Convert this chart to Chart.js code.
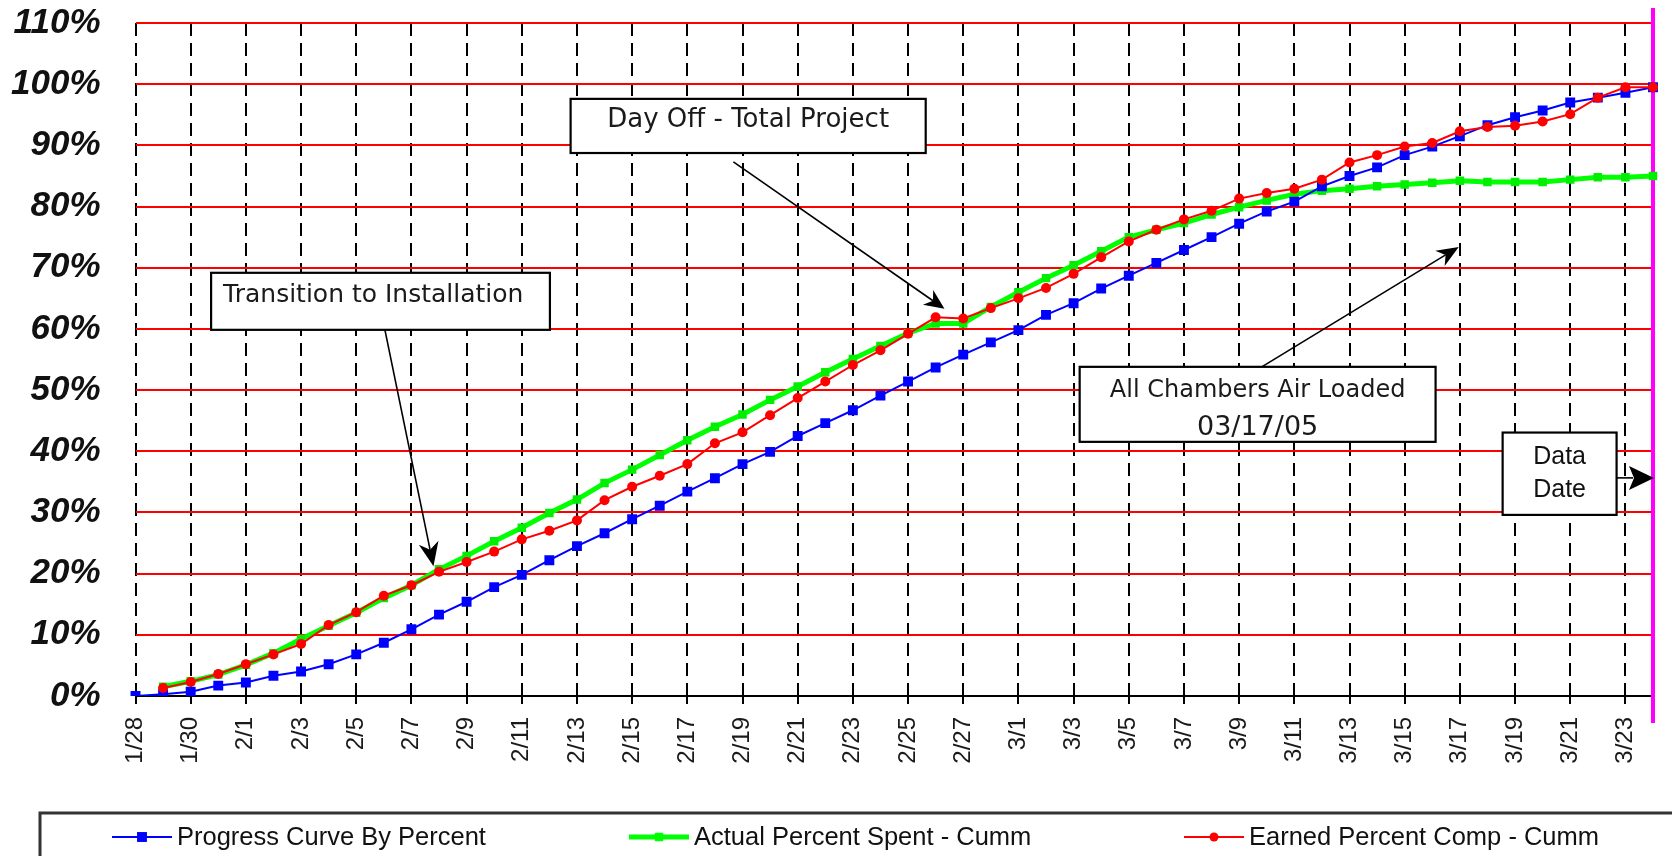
<!DOCTYPE html>
<html>
<head>
<meta charset="utf-8">
<script src="https://cdn.jsdelivr.net/npm/chart.js@4/dist/chart.umd.min.js"></script>
<style>
  html, body { margin: 0; padding: 0; background: #ffffff; }
  #wrap { width: 1672px; height: 856px; }
</style>
</head>
<body>
<div id="wrap"><canvas id="c" width="1672" height="856"></canvas></div>
<script>
// Daily reporting dates, 1/28 through the data date 3/24
const days = [
  '1/28','1/29','1/30','1/31',
  '2/1','2/2','2/3','2/4','2/5','2/6','2/7','2/8','2/9','2/10','2/11','2/12','2/13','2/14',
  '2/15','2/16','2/17','2/18','2/19','2/20','2/21','2/22','2/23','2/24','2/25','2/26','2/27','2/28',
  '3/1','3/2','3/3','3/4','3/5','3/6','3/7','3/8','3/9','3/10','3/11','3/12','3/13','3/14',
  '3/15','3/16','3/17','3/18','3/19','3/20','3/21','3/22','3/23','3/24'
];

// Planned progress curve (%)
const progressCurve = [
  0, 0.3, 0.7, 1.7,
  2.2, 3.3, 4.0, 5.2, 6.8, 8.7, 10.9, 13.3, 15.4, 17.8, 19.8, 22.2, 24.5, 26.6,
  28.9, 31.1, 33.4, 35.6, 37.9, 39.9, 42.5, 44.6, 46.7, 49.1, 51.4, 53.7, 55.8, 57.8,
  59.8, 62.3, 64.2, 66.6, 68.7, 70.8, 72.9, 75.0, 77.2, 79.2, 80.8, 83.3, 85.0, 86.4,
  88.4, 89.8, 91.5, 93.3, 94.6, 95.7, 97.0, 97.8, 98.6, 99.5
];

// Actual percent spent, cumulative (%)
const actualSpent = [
  null, 1.5, 2.4, 3.5,
  5.1, 7.0, 9.3, 11.5, 13.6, 16.0, 18.1, 20.7, 22.9, 25.3, 27.5, 29.9, 32.1, 34.8,
  37.0, 39.4, 41.8, 44.0, 46.0, 48.4, 50.6, 52.9, 55.1, 57.2, 59.3, 60.9, 60.9, 63.6,
  66.0, 68.3, 70.4, 72.7, 75.0, 76.2, 77.3, 78.7, 79.9, 81.0, 82.0, 82.6, 82.9, 83.3,
  83.6, 83.9, 84.2, 84.0, 84.0, 84.0, 84.4, 84.8, 84.8, 85.0
];

// Earned percent complete, cumulative (%)
const earnedComp = [
  null, 1.3, 2.3, 3.6,
  5.2, 6.8, 8.5, 11.6, 13.7, 16.4, 18.1, 20.3, 21.9, 23.6, 25.6, 27.0, 28.7, 32.0,
  34.2, 36.0, 37.9, 41.3, 43.1, 45.9, 48.7, 51.4, 54.1, 56.5, 59.2, 61.9, 61.7, 63.4,
  65.0, 66.7, 69.0, 71.7, 74.3, 76.2, 77.9, 79.3, 81.3, 82.2, 82.9, 84.4, 87.2, 88.4,
  89.8, 90.4, 92.3, 93.0, 93.2, 93.9, 95.1, 97.8, 99.5, 99.5
];

const seriesNames = ['Progress Curve By Percent', 'Actual Percent Spent - Cumm', 'Earned Percent Comp - Cumm'];

const Y_MAX = 110;
const Y_STEP = 10;
const DATA_DATE_INDEX = days.length - 1;

const SANS = '"Liberation Sans", Arial, sans-serif';
const NOTE_FONT = '"DejaVu Sans", sans-serif';

// Call-out boxes, placed in chart units (day index, percent)
const notes = [
  { lines: ['Day Off - Total Project'], sizes: [26], box: [15.77, 97.6, 28.64, 88.75], align: 'center',
    baselines: [28], from: [21.67, 87.3], to: [29.32, 63.3], head: [20, 9] },
  { lines: ['Transition to Installation'], sizes: [25], box: [2.74, 69.17, 15.02, 59.85], align: 'left',
    baselines: [28.7], from: [9.04, 59.85], to: [10.8, 21.2], head: [24, 10] },
  { lines: ['All Chambers Air Loaded', '03/17/05'], sizes: [24, 27], box: [34.22, 53.8, 47.12, 41.54], align: 'center',
    baselines: [29.7, 68], from: [40.82, 53.8], to: [47.96, 73.4], head: [22, 9] }
];
const dataDateNote = { lines: ['Data', 'Date'], box: [49.55, 43.06, 53.68, 29.6], baselines: [31.3, 64.3], arrowAt: 35.65 };

function stealthArrow(ctx, x1, y1, x2, y2, len, half) {
  const dx = x2 - x1, dy = y2 - y1;
  const d = Math.hypot(dx, dy);
  const ux = dx / d, uy = dy / d;
  const nx = -uy, ny = ux;
  const bx = x2 - ux * len, by = y2 - uy * len;
  const mx = x2 - ux * len * 0.7, my = y2 - uy * len * 0.7;
  ctx.beginPath();
  ctx.moveTo(x1, y1);
  ctx.lineTo(mx, my);
  ctx.stroke();
  ctx.beginPath();
  ctx.moveTo(x2, y2);
  ctx.lineTo(bx + nx * half, by + ny * half);
  ctx.lineTo(mx, my);
  ctx.lineTo(bx - nx * half, by - ny * half);
  ctx.closePath();
  ctx.fill();
}

const overlay = {
  id: 'overlay',
  beforeDatasetsDraw(chart) {
    const { ctx, chartArea } = chart;
    const xs = chart.scales.x;
    const x = xs.getPixelForValue(DATA_DATE_INDEX);
    ctx.save();
    ctx.strokeStyle = '#ff00ff';
    ctx.lineWidth = 4;
    ctx.beginPath();
    ctx.moveTo(x, chartArea.top - 15);
    ctx.lineTo(x, chartArea.bottom + 27);
    ctx.stroke();
    ctx.restore();
  },
  afterDatasetsDraw(chart) {
    const { ctx } = chart;
    const xs = chart.scales.x, ys = chart.scales.y;
    const px = v => xs.getPixelForValue(v);
    const py = v => ys.getPixelForValue(v);
    ctx.save();

    // call-out boxes with arrows
    notes.forEach(n => {
      ctx.strokeStyle = '#000';
      ctx.fillStyle = '#000';
      ctx.lineWidth = 1.6;
      stealthArrow(ctx, px(n.from[0]), py(n.from[1]), px(n.to[0]), py(n.to[1]), n.head[0], n.head[1]);
      const L = px(n.box[0]), T = py(n.box[1]), R = px(n.box[2]), B = py(n.box[3]);
      ctx.fillStyle = '#fff';
      ctx.fillRect(L, T, R - L, B - T);
      ctx.lineWidth = 2.2;
      ctx.strokeStyle = '#000';
      ctx.strokeRect(L, T, R - L, B - T);
      ctx.fillStyle = '#1a1a1a';
      ctx.textBaseline = 'alphabetic';
      n.lines.forEach((t, k) => {
        ctx.font = n.sizes[k] + 'px ' + NOTE_FONT;
        if (n.align === 'left') {
          ctx.textAlign = 'left';
          ctx.fillText(t, L + 12, T + n.baselines[k]);
        } else {
          ctx.textAlign = 'center';
          ctx.fillText(t, (L + R) / 2, T + n.baselines[k]);
        }
      });
    });

    // data date box and arrow to the data date line
    {
      const n = dataDateNote;
      const L = px(n.box[0]), T = py(n.box[1]), R = px(n.box[2]), B = py(n.box[3]);
      const ay = py(n.arrowAt), tip = px(DATA_DATE_INDEX);
      ctx.strokeStyle = '#000';
      ctx.lineWidth = 1.6;
      ctx.beginPath();
      ctx.moveTo(R, ay);
      ctx.lineTo(tip - 20, ay);
      ctx.stroke();
      ctx.fillStyle = '#000';
      ctx.beginPath();
      ctx.moveTo(tip + 1, ay);
      ctx.lineTo(tip - 24, ay - 12);
      ctx.lineTo(tip - 19, ay);
      ctx.lineTo(tip - 24, ay + 12);
      ctx.closePath();
      ctx.fill();
      ctx.fillStyle = '#fff';
      ctx.fillRect(L, T, R - L, B - T);
      ctx.lineWidth = 2.2;
      ctx.strokeRect(L, T, R - L, B - T);
      ctx.fillStyle = '#111';
      ctx.font = '25px ' + SANS;
      ctx.textAlign = 'center';
      ctx.textBaseline = 'alphabetic';
      n.lines.forEach((t, k) => ctx.fillText(t, (L + R) / 2, T + n.baselines[k]));
    }

    // legend panel along the bottom
    ctx.strokeStyle = '#333';
    ctx.lineWidth = 3;
    ctx.strokeRect(40, 813, 1680, 80);
    const itemX = [112, 629, 1184];
    const ly = 837;
    chart.data.datasets.forEach((ds, i) => {
      const x0 = itemX[i], x1 = x0 + 60;
      ctx.strokeStyle = ds.borderColor;
      ctx.lineWidth = ds.borderWidth;
      ctx.beginPath();
      ctx.moveTo(x0, ly);
      ctx.lineTo(x1, ly);
      ctx.stroke();
      ctx.fillStyle = ds.borderColor;
      const cx = (x0 + x1) / 2;
      if (ds.pointStyle === 'circle') {
        ctx.beginPath();
        ctx.arc(cx, ly, 4.5, 0, Math.PI * 2);
        ctx.fill();
      } else {
        const s = ds.pointRadius * Math.SQRT1_2;
        ctx.fillRect(cx - s, ly - s, 2 * s, 2 * s);
      }
      ctx.fillStyle = '#111';
      ctx.font = '25.5px ' + SANS;
      ctx.textAlign = 'left';
      ctx.textBaseline = 'middle';
      ctx.fillText(ds.label, x1 + 5, ly + 1);
    });
    ctx.restore();
  }
};

Chart.defaults.font.family = SANS;

new Chart(document.getElementById('c'), {
  type: 'line',
  data: {
    labels: days,
    datasets: [
      {
        label: seriesNames[0], data: progressCurve,
        borderColor: '#0000ff', backgroundColor: '#0000ff', borderWidth: 2,
        pointStyle: 'rect', pointRadius: 7, pointBorderWidth: 0,
        pointBackgroundColor: '#0000ff', tension: 0, order: 1
      },
      {
        label: seriesNames[1], data: actualSpent,
        borderColor: '#00ff00', backgroundColor: '#00ff00', borderWidth: 5,
        pointStyle: 'rect', pointRadius: 6, pointBorderWidth: 0,
        pointBackgroundColor: '#00ee00', tension: 0, order: 2
      },
      {
        label: seriesNames[2], data: earnedComp,
        borderColor: '#ff0000', backgroundColor: '#ff0000', borderWidth: 2,
        pointStyle: 'circle', pointRadius: 5, pointBorderWidth: 0,
        pointBackgroundColor: '#ff0000', tension: 0, order: 0
      }
    ]
  },
  options: {
    responsive: false,
    animation: false,
    devicePixelRatio: 1,
    layout: { padding: { top: 23, right: 19, bottom: 0, left: 0 } },
    plugins: { legend: { display: false }, tooltip: { enabled: false } },
    scales: {
      x: {
        type: 'category',
        offset: false,
        afterFit: s => { s.height = 160; s.paddingLeft = 0; s.paddingRight = 0; },
        grid: {
          display: true,
          drawOnChartArea: true,
          drawTicks: true,
          tickLength: 8,
          lineWidth: 2,
          tickWidth: 2,
          color: c => (c.index % 2 === 0 && c.index < DATA_DATE_INDEX) ? '#000' : 'rgba(0,0,0,0)',
          tickColor: c => (c.index % 2 === 0 && c.index < DATA_DATE_INDEX) ? '#000' : 'rgba(0,0,0,0)'
        },
        border: { display: false, dash: [13, 7] },
        ticks: {
          autoSkip: false,
          maxRotation: 90,
          minRotation: 90,
          padding: 13,
          color: '#1a1a1a',
          font: { size: 24, family: SANS },
          callback: (v, i) => (i % 2 === 0 && i < DATA_DATE_INDEX) ? days[i] : ''
        }
      },
      y: {
        min: 0,
        max: Y_MAX,
        afterFit: s => { s.width = 135.5; s.paddingTop = 0; s.paddingBottom = 0; },
        grid: {
          drawTicks: false,
          lineWidth: 2,
          color: c => c.tick && c.tick.value === 0 ? '#000' : '#ff0000'
        },
        border: { display: false },
        ticks: {
          stepSize: Y_STEP,
          autoSkip: false,
          padding: 35,
          color: '#111',
          font: { size: 35, style: 'italic', weight: 'bold', family: SANS },
          callback: v => v + '%'
        }
      }
    }
  },
  plugins: [overlay]
});
</script>
</body>
</html>
